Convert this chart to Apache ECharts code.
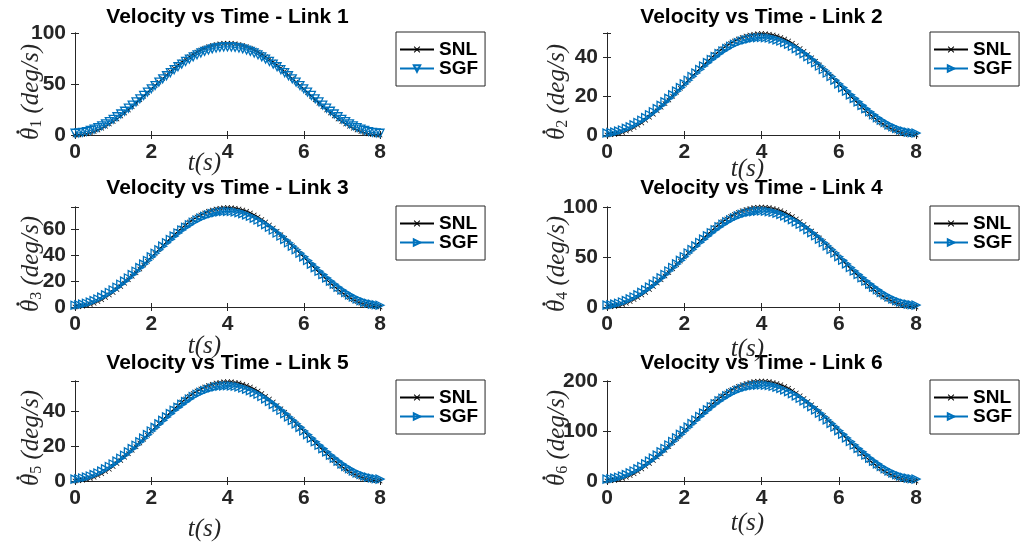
<!DOCTYPE html>
<html lang="en">
<head>
<meta charset="UTF-8">
<title>Velocity vs Time</title>
<script src="https://cdn.jsdelivr.net/npm/echarts@6.0.0/dist/echarts.min.js"></script>
<style>
  html, body { margin: 0; padding: 0; background: #fff; }
  #main { width: 1025px; height: 543px; }
</style>
</head>
<body>
<div id="main"></div>
<script>
// time samples (s)
const time = [0, 0.1, 0.2, 0.3, 0.4, 0.5, 0.6, 0.7, 0.8, 0.9, 1.0, 1.1, 1.2, 1.3, 1.4, 1.5, 1.6, 1.7, 1.8, 1.9,
  2.0, 2.1, 2.2, 2.3, 2.4, 2.5, 2.6, 2.7, 2.8, 2.9, 3.0, 3.1, 3.2, 3.3, 3.4, 3.5, 3.6, 3.7, 3.8, 3.9,
  4.0, 4.1, 4.2, 4.3, 4.4, 4.5, 4.6, 4.7, 4.8, 4.9, 5.0, 5.1, 5.2, 5.3, 5.4, 5.5, 5.6, 5.7, 5.8, 5.9,
  6.0, 6.1, 6.2, 6.3, 6.4, 6.5, 6.6, 6.7, 6.8, 6.9, 7.0, 7.1, 7.2, 7.3, 7.4, 7.5, 7.6, 7.7, 7.8, 7.9, 8.0];

// joint velocities (deg/s), SNL and SGF per link
const snl1 = [0, 0.1, 0.6, 1.2, 2.2, 3.4, 4.9, 6.6, 8.6, 10.8, 13.2, 15.8, 18.6, 21.5, 24.6, 27.8, 31.1, 34.5, 38.0, 41.5,
  45.0, 48.5, 52.0, 55.5, 58.9, 62.2, 65.4, 68.5, 71.5, 74.2, 76.8, 79.2, 81.4, 83.4, 85.1, 86.6, 87.8, 88.8, 89.5, 89.9,
  90.0, 89.9, 89.5, 88.8, 87.8, 86.6, 85.1, 83.4, 81.4, 79.2, 76.8, 74.2, 71.5, 68.5, 65.4, 62.2, 58.9, 55.5, 52.0, 48.5,
  45.0, 41.5, 38.0, 34.5, 31.1, 27.8, 24.6, 21.5, 18.6, 15.8, 13.2, 10.8, 8.6, 6.6, 4.9, 3.4, 2.2, 1.2, 0.6, 0.1, 0];
const sgf1 = [1.7, 2.0, 2.6, 3.4, 4.4, 5.7, 7.3, 9.0, 10.9, 13.1, 15.4, 17.9, 20.6, 23.3, 26.3, 29.3, 32.4, 35.5, 38.8, 42.0,
  45.3, 48.5, 51.8, 55.0, 58.1, 61.1, 64.0, 66.9, 69.5, 72.1, 74.4, 76.6, 78.6, 80.4, 82.0, 83.3, 84.4, 85.3, 85.9, 86.3,
  86.4, 86.3, 85.9, 85.3, 84.4, 83.3, 82.0, 80.4, 78.6, 76.6, 74.4, 72.1, 69.5, 66.9, 64.0, 61.1, 58.1, 55.0, 51.8, 48.5,
  45.3, 42.0, 38.8, 35.5, 32.4, 29.3, 26.3, 23.3, 20.6, 17.9, 15.4, 13.1, 10.9, 9.0, 7.3, 5.7, 4.4, 3.4, 2.6, 2.0, 1.7];

const snl2 = [0, 0.1, 0.3, 0.7, 1.3, 2.0, 2.8, 3.8, 5.0, 6.2, 7.6, 9.1, 10.7, 12.4, 14.2, 16.1, 18.0, 19.9, 21.9, 24.0,
  26.0, 28.0, 30.1, 32.1, 34.0, 35.9, 37.8, 39.6, 41.3, 42.9, 44.4, 45.8, 47.0, 48.2, 49.2, 50.0, 50.7, 51.3, 51.7, 51.9,
  52.0, 51.9, 51.7, 51.3, 50.7, 50.0, 49.2, 48.2, 47.0, 45.8, 44.4, 42.9, 41.3, 39.6, 37.8, 35.9, 34.0, 32.1, 30.1, 28.0,
  26.0, 24.0, 21.9, 19.9, 18.0, 16.1, 14.2, 12.4, 10.7, 9.1, 7.6, 6.2, 5.0, 3.8, 2.8, 2.0, 1.3, 0.7, 0.3, 0.1, 0];
const sgf2 = [1.0, 1.2, 1.5, 2.0, 2.6, 3.4, 4.2, 5.2, 6.4, 7.6, 8.9, 10.4, 11.9, 13.5, 15.2, 17.0, 18.8, 20.6, 22.5, 24.3,
  26.2, 28.1, 30.0, 31.8, 33.6, 35.4, 37.1, 38.7, 40.2, 41.7, 43.1, 44.3, 45.5, 46.5, 47.4, 48.2, 48.8, 49.3, 49.7, 49.9,
  50.0, 49.9, 49.7, 49.3, 48.8, 48.2, 47.4, 46.5, 45.5, 44.3, 43.1, 41.7, 40.2, 38.7, 37.1, 35.4, 33.6, 31.8, 30.0, 28.1,
  26.2, 24.3, 22.5, 20.6, 18.8, 17.0, 15.2, 13.5, 11.9, 10.4, 8.9, 7.6, 6.4, 5.2, 4.2, 3.4, 2.6, 2.0, 1.5, 1.2, 1.0];

const snl3 = [0, 0.1, 0.5, 1.1, 1.9, 2.9, 4.2, 5.7, 7.4, 9.2, 11.3, 13.5, 15.9, 18.4, 21.0, 23.8, 26.6, 29.5, 32.5, 35.5,
  38.5, 41.5, 44.5, 47.5, 50.4, 53.2, 56.0, 58.6, 61.1, 63.5, 65.7, 67.8, 69.6, 71.3, 72.8, 74.1, 75.1, 75.9, 76.5, 76.9,
  77.0, 76.9, 76.5, 75.9, 75.1, 74.1, 72.8, 71.3, 69.6, 67.8, 65.7, 63.5, 61.1, 58.6, 56.0, 53.2, 50.4, 47.5, 44.5, 41.5,
  38.5, 35.5, 32.5, 29.5, 26.6, 23.8, 21.0, 18.4, 15.9, 13.5, 11.3, 9.2, 7.4, 5.7, 4.2, 2.9, 1.9, 1.1, 0.5, 0.1, 0];
const sgf3 = [1.4, 1.7, 2.2, 2.9, 3.8, 4.9, 6.2, 7.7, 9.4, 11.2, 13.2, 15.3, 17.6, 20.0, 22.5, 25.1, 27.7, 30.5, 33.2, 36.0,
  38.8, 41.6, 44.3, 47.1, 49.7, 52.3, 54.9, 57.3, 59.6, 61.7, 63.7, 65.6, 67.3, 68.8, 70.2, 71.3, 72.3, 73.0, 73.6, 73.9,
  74.0, 73.9, 73.6, 73.0, 72.3, 71.3, 70.2, 68.8, 67.3, 65.6, 63.7, 61.7, 59.6, 57.3, 54.9, 52.3, 49.7, 47.1, 44.3, 41.6,
  38.8, 36.0, 33.2, 30.5, 27.7, 25.1, 22.5, 20.0, 17.6, 15.3, 13.2, 11.2, 9.4, 7.7, 6.2, 4.9, 3.8, 2.9, 2.2, 1.7, 1.4];

const snl4 = [0, 0.2, 0.6, 1.4, 2.4, 3.8, 5.5, 7.4, 9.5, 12.0, 14.6, 17.5, 20.6, 23.9, 27.3, 30.9, 34.5, 38.3, 42.2, 46.1,
  50.0, 53.9, 57.8, 61.7, 65.5, 69.1, 72.7, 76.1, 79.4, 82.5, 85.4, 88.0, 90.5, 92.6, 94.6, 96.2, 97.6, 98.6, 99.4, 99.8,
  100.0, 99.8, 99.4, 98.6, 97.6, 96.2, 94.6, 92.6, 90.5, 88.0, 85.4, 82.5, 79.4, 76.1, 72.7, 69.1, 65.5, 61.7, 57.8, 53.9,
  50.0, 46.1, 42.2, 38.3, 34.5, 30.9, 27.3, 23.9, 20.6, 17.5, 14.6, 12.0, 9.5, 7.4, 5.5, 3.8, 2.4, 1.4, 0.6, 0.2, 0];
const sgf4 = [1.9, 2.2, 2.9, 3.8, 5.0, 6.4, 8.1, 10.0, 12.2, 14.6, 17.2, 19.9, 22.9, 26.0, 29.2, 32.5, 36.0, 39.5, 43.1, 46.7,
  50.3, 54.0, 57.5, 61.1, 64.5, 67.9, 71.2, 74.3, 77.3, 80.1, 82.7, 85.1, 87.3, 89.3, 91.1, 92.6, 93.8, 94.7, 95.4, 95.9,
  96.0, 95.9, 95.4, 94.7, 93.8, 92.6, 91.1, 89.3, 87.3, 85.1, 82.7, 80.1, 77.3, 74.3, 71.2, 67.9, 64.5, 61.1, 57.5, 54.0,
  50.3, 46.7, 43.1, 39.5, 36.0, 32.5, 29.2, 26.0, 22.9, 19.9, 17.2, 14.6, 12.2, 10.0, 8.1, 6.4, 5.0, 3.8, 2.9, 2.2, 1.9];

const snl5 = [0, 0.1, 0.4, 0.8, 1.4, 2.2, 3.1, 4.2, 5.4, 6.8, 8.3, 10.0, 11.7, 13.6, 15.6, 17.6, 19.7, 21.8, 24.0, 26.3,
  28.5, 30.7, 33.0, 35.2, 37.3, 39.4, 41.4, 43.4, 45.3, 47.0, 48.7, 50.2, 51.6, 52.8, 53.9, 54.8, 55.6, 56.2, 56.6, 56.9,
  57.0, 56.9, 56.6, 56.2, 55.6, 54.8, 53.9, 52.8, 51.6, 50.2, 48.7, 47.0, 45.3, 43.4, 41.4, 39.4, 37.3, 35.2, 33.0, 30.7,
  28.5, 26.3, 24.0, 21.8, 19.7, 17.6, 15.6, 13.6, 11.7, 10.0, 8.3, 6.8, 5.4, 4.2, 3.1, 2.2, 1.4, 0.8, 0.4, 0.1, 0];
const sgf5 = [1.1, 1.3, 1.7, 2.2, 2.9, 3.7, 4.6, 5.7, 7.0, 8.3, 9.8, 11.4, 13.1, 14.8, 16.7, 18.6, 20.5, 22.5, 24.6, 26.6,
  28.7, 30.8, 32.8, 34.8, 36.8, 38.7, 40.6, 42.3, 44.0, 45.6, 47.1, 48.5, 49.8, 50.9, 51.9, 52.7, 53.4, 54.0, 54.4, 54.6,
  54.7, 54.6, 54.4, 54.0, 53.4, 52.7, 51.9, 50.9, 49.8, 48.5, 47.1, 45.6, 44.0, 42.3, 40.6, 38.7, 36.8, 34.8, 32.8, 30.8,
  28.7, 26.6, 24.6, 22.5, 20.5, 18.6, 16.7, 14.8, 13.1, 11.4, 9.8, 8.3, 7.0, 5.7, 4.6, 3.7, 2.9, 2.2, 1.7, 1.3, 1.1];

const snl6 = [0, 0.3, 1.2, 2.8, 4.9, 7.6, 10.9, 14.7, 19.1, 24.0, 29.3, 35.1, 41.2, 47.8, 54.6, 61.7, 69.1, 76.7, 84.4, 92.2,
  100.0, 107.8, 115.6, 123.3, 130.9, 138.3, 145.4, 152.3, 158.8, 164.9, 170.7, 176.0, 180.9, 185.3, 189.1, 192.4, 195.1, 197.2, 198.8, 199.7,
  200.0, 199.7, 198.8, 197.2, 195.1, 192.4, 189.1, 185.3, 180.9, 176.0, 170.7, 164.9, 158.8, 152.3, 145.4, 138.3, 130.9, 123.3, 115.6, 107.8,
  100.0, 92.2, 84.4, 76.7, 69.1, 61.7, 54.6, 47.8, 41.2, 35.1, 29.3, 24.0, 19.1, 14.7, 10.9, 7.6, 4.9, 2.8, 1.2, 0.3, 0];
const sgf6 = [3.8, 4.5, 5.8, 7.6, 9.9, 12.8, 16.2, 20.1, 24.4, 29.1, 34.3, 39.8, 45.7, 51.9, 58.4, 65.1, 72.0, 79.0, 86.2, 93.4,
  100.7, 107.9, 115.1, 122.1, 129.1, 135.8, 142.3, 148.6, 154.5, 160.2, 165.4, 170.3, 174.7, 178.6, 182.1, 185.1, 187.6, 189.5, 190.9, 191.7,
  192.0, 191.7, 190.9, 189.5, 187.6, 185.1, 182.1, 178.6, 174.7, 170.3, 165.4, 160.2, 154.5, 148.6, 142.3, 135.8, 129.1, 122.1, 115.1, 107.9,
  100.7, 93.4, 86.2, 79.0, 72.0, 65.1, 58.4, 51.9, 45.7, 39.8, 34.3, 29.1, 24.4, 20.1, 16.2, 12.8, 9.9, 7.6, 5.8, 4.5, 3.8];

const snlData = [snl1, snl2, snl3, snl4, snl5, snl6];
const sgfData = [sgf1, sgf2, sgf3, sgf4, sgf5, sgf6];
const yMax = [100, 52.3, 77.4, 100, 57.4, 200];
const yStep = [50, 20, 20, 50, 20, 100];
const xMin = 0, xMax = 8, xStep = 2;

// layout (px)
const colLeft = [75, 607];
const colWidth = [305, 309];
const rowTop = [33, 207, 381];
const rowHeight = [102, 100, 100];
const titleY = [17, 188, 363];
const legendLeft = [396, 930];
const xNameShift = [23, 14];
const xNameGap = [16, 22, 27, 30, 36, 30];
const yLabelX = [31, 557];

const AXIS = '#262626';
const BLUE = '#0072BD';
const CROSS = 'path://M1,0L5,4L9,0L10,1L6,5L10,9L9,10L5,6L1,10L0,9L4,5L0,1Z';
const sans = 'Liberation Sans';
const serif = 'Liberation Serif';

const chart = echarts.init(document.getElementById('main'));

const grids = [], xAxes = [], yAxes = [], series = [], legends = [], graphics = [];

for (let i = 0; i < 6; i++) {
  const col = i % 2, row = Math.floor(i / 2);
  const left = colLeft[col], top = rowTop[row], w = colWidth[col], h = rowHeight[row];
  const n = i + 1;

  grids.push({ left: left, top: top, width: w, height: h, outerBoundsMode: 'none' });

  const axisLine = { show: true, lineStyle: { color: AXIS, width: 1 } };
  const tick = { show: true, inside: true, length: 4, lineStyle: { color: AXIS } };
  const tickFont = { fontFamily: sans, fontWeight: 'bold', fontSize: 21, color: AXIS };

  xAxes.push({
    type: 'value', gridIndex: i, position: 'bottom',
    min: xMin, max: xMax, interval: xStep,
    axisLine: axisLine, axisTick: tick, splitLine: { show: false },
    axisLabel: Object.assign({ margin: 7 }, tickFont),
    name: 't(s)', nameLocation: 'middle', nameGap: xNameGap[i], nameMoveOverlap: false,
    nameTextStyle: { fontFamily: serif, fontStyle: 'italic', fontSize: 25, color: AXIS,
      padding: [0, 2 * xNameShift[col], 0, 0] }
  });
  xAxes.push({
    type: 'value', gridIndex: i, position: 'top',
    min: xMin, max: xMax, interval: xStep,
    axisLine: axisLine, axisTick: tick, splitLine: { show: false }, axisLabel: { show: false }
  });

  const step = yStep[i];
  yAxes.push({
    type: 'value', gridIndex: i, position: 'left',
    min: 0, max: yMax[i], interval: step,
    axisLine: axisLine, axisTick: tick, splitLine: { show: false },
    axisLabel: Object.assign({ margin: 9,
      formatter: v => (Math.abs(v / step - Math.round(v / step)) < 1e-6 ? String(v) : '') }, tickFont)
  });
  yAxes.push({
    type: 'value', gridIndex: i, position: 'right',
    min: 0, max: yMax[i], interval: step,
    axisLine: axisLine, axisTick: tick, splitLine: { show: false }, axisLabel: { show: false }
  });

  series.push({
    name: 'SNL' + n, type: 'line', xAxisIndex: 2 * i, yAxisIndex: 2 * i,
    data: time.map((t, k) => [t, snlData[i][k]]),
    symbol: CROSS, symbolSize: 5, showSymbol: true, clip: false,
    lineStyle: { color: '#000', width: 1 },
    itemStyle: { color: '#000' },
    emphasis: { disabled: true }, animation: false
  });
  series.push({
    name: 'SGF' + n, type: 'line', xAxisIndex: 2 * i, yAxisIndex: 2 * i,
    data: time.map((t, k) => [t, sgfData[i][k]]),
    symbol: 'triangle', symbolRotate: i === 0 ? 180 : -90, symbolSize: 8, showSymbol: true, clip: false,
    lineStyle: { color: BLUE, width: 1.2 },
    itemStyle: { color: 'rgba(0,0,0,0)', borderColor: BLUE, borderWidth: 1.3 },
    emphasis: { disabled: true }, animation: false
  });

  legends.push({
    orient: 'vertical', left: legendLeft[col], top: top - 1,
    data: ['SNL' + n, 'SGF' + n],
    formatter: name => name.replace(/\d+$/, ''),
    itemWidth: 34, itemHeight: 8, itemGap: 0,
    padding: [8, 7, 8, 3],
    borderColor: AXIS, borderWidth: 1, backgroundColor: '#fff',
    selectedMode: false,
    textStyle: { fontFamily: sans, fontWeight: 'bold', fontSize: 19, color: '#000' }
  });

  // panel title
  graphics.push({
    type: 'text', x: left + w / 2, y: titleY[row],
    style: { text: 'Velocity vs Time - Link ' + n, fill: '#000',
      fontFamily: sans, fontWeight: 'bold', fontSize: 21, align: 'center', verticalAlign: 'middle' }
  });

  // y label: theta-dot with subscript, rotated, drawn from the bottom up
  const yStart = top + h + 5;
  const xc = yLabelX[col];
  graphics.push({
    type: 'text', x: xc, y: yStart, rotation: Math.PI / 2,
    style: {
      text: '{a|θ}{s|' + n + '}{a| (deg/s)}',
      align: 'left', verticalAlign: 'middle',
      rich: {
        a: { fontFamily: serif, fontStyle: 'italic', fontSize: 25, fill: AXIS, lineHeight: 28 },
        s: { fontFamily: serif, fontSize: 16, fill: AXIS, lineHeight: 16, verticalAlign: 'bottom' }
      }
    }
  });
  graphics.push({
    type: 'circle', shape: { cx: xc - 13, cy: yStart - 8, r: 1.7 },
    style: { fill: AXIS }
  });
}

chart.setOption({
  backgroundColor: '#fff',
  animation: false,
  grid: grids,
  xAxis: xAxes,
  yAxis: yAxes,
  legend: legends,
  graphic: graphics,
  series: series
});
</script>
</body>
</html>
